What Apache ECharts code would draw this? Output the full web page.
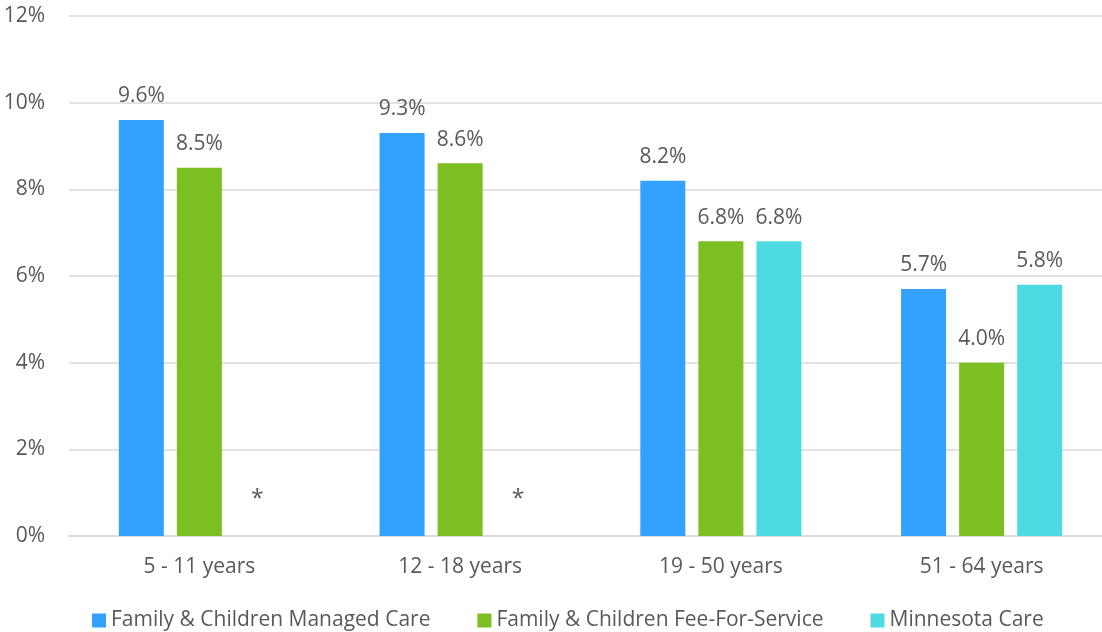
<!DOCTYPE html>
<html>
<head>
<meta charset="utf-8">
<script src="https://cdn.jsdelivr.net/npm/echarts@6/dist/echarts.min.js"></script>
<style>
  html, body { margin: 0; padding: 0; background: #ffffff; overflow: hidden; }
  #wrap { width: 1102px; height: 632px; overflow: hidden; }
  #chart { width: 1112px; height: 632px; }
</style>
</head>
<body>
<div id="wrap"><div id="chart"></div></div>
<script>
// Age groups along the x axis
const categories = ['5 - 11 years', '12 - 18 years', '19 - 50 years', '51 - 64 years'];
// Rates in percent; null = not reported (shown as *)
const managedCare = [9.6, 9.3, 8.2, 5.7];
const feeForService = [8.5, 8.6, 6.8, 4.0];
const minnesotaCare = [null, null, 6.8, 5.8];
const seriesNames = ['Family & Children Managed Care', 'Family & Children Fee-For-Service', 'Minnesota Care'];
const yTicks = [0, 2, 4, 6, 8, 10, 12];

const FONT = '"Open Sans", "Noto Sans", sans-serif';
const TEXT = '#595959';
const colors = ['#33A2FF', '#7BBF22', '#4DDAE3'];

function toData(arr) {
  return arr.map(v => v === null
    ? { value: 0, label: { formatter: '*', fontSize: 23, offset: [0, -12] } }
    : v);
}

function barSeries(name, arr, color) {
  return {
    name: name,
    type: 'bar',
    data: toData(arr),
    barWidth: 45,
    barGap: '29%',
    itemStyle: { color: color },
    label: {
      show: true,
      position: 'top',
      distance: 13,
      color: TEXT,
      fontFamily: FONT,
      fontSize: 21,
      formatter: p => p.value.toFixed(1) + '%'
    }
  };
}

const chart = echarts.init(document.getElementById('chart'), null, { renderer: 'canvas' });
chart.setOption({
  animation: false,
  textStyle: { fontFamily: FONT, color: TEXT },
  grid: { left: 69, right: 0, top: 16, bottom: 96, containLabel: false },
  legend: {
    data: seriesNames,
    left: 87,
    top: 605,
    itemWidth: 14,
    itemHeight: 14,
    itemGap: 47,
    icon: 'rect',
    textStyle: { color: TEXT, fontSize: 21, fontFamily: FONT }
  },
  xAxis: {
    type: 'category',
    data: categories,
    axisLine: { lineStyle: { color: '#d9d9d9', width: 1.5 } },
    axisTick: { show: false },
    axisLabel: { color: TEXT, fontSize: 21, fontFamily: FONT, margin: 21 }
  },
  yAxis: {
    type: 'value',
    min: yTicks[0],
    max: yTicks[yTicks.length - 1],
    interval: 2,
    axisLine: { show: false },
    axisTick: { show: false },
    splitLine: { lineStyle: { color: '#d9d9d9', width: 1.5 } },
    axisLabel: { color: TEXT, fontSize: 21, fontFamily: FONT, margin: 24, formatter: v => v + '%' }
  },
  series: [
    barSeries(seriesNames[0], managedCare, colors[0]),
    barSeries(seriesNames[1], feeForService, colors[1]),
    barSeries(seriesNames[2], minnesotaCare, colors[2])
  ]
});
</script>
</body>
</html>
